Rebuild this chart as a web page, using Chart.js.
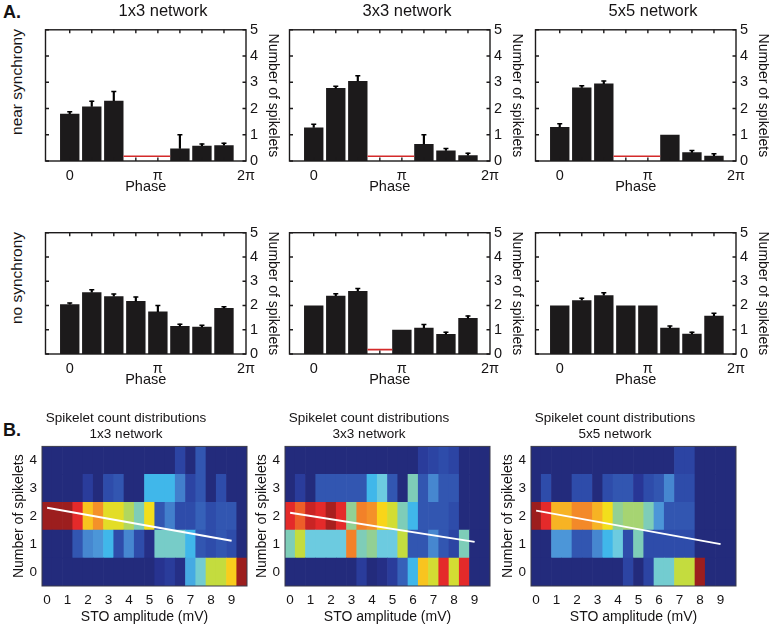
<!DOCTYPE html>
<html lang="en">
<head>
<meta charset="UTF-8"/>
<title>Spikelet counts vs phase and STO amplitude</title>
<script src="https://cdn.jsdelivr.net/npm/chart.js@4.4.1/dist/chart.umd.min.js"></script>
<style>
  * { margin: 0; padding: 0; box-sizing: border-box; }
  body { width: 769px; height: 626px; background: #fff; position: relative; overflow: hidden;
         font-family: 'Liberation Sans', Arial, sans-serif; color: #151314; }
  canvas { position: absolute; }
  .lbl   { position: absolute; white-space: nowrap; }
  .panel { font-weight: bold; font-size: 18px; }
  .row   { font-size: 15.5px; transform: translate(-50%, -50%) rotate(-90deg); }
</style>
</head>
<body>

<div class="lbl panel" style="left:3px; top:2px;">A.</div>
<div class="lbl panel" style="left:3px; top:420px;">B.</div>
<div class="lbl row" style="left:17px; top:82px;">near synchrony</div>
<div class="lbl row" style="left:17px; top:278px;">no synchrony</div>

<script>
// ---- phase histograms (bins in units of pi/4) ----
const phaseBins     = [0, 1, 2, 3, 4, 5, 6, 7];
const phaseTickVals = [0, 4, 8];
const phaseTickText = ['0', 'π', '2π'];
const countTicks    = [0, 1, 2, 3, 4, 5];
const noDataLevel   = 0.18;

const near13    = [1.8, 2.08, 2.3, null, null, 0.48, 0.58, 0.6];
const near13Err = [0.08, 0.2, 0.35, null, null, 0.52, 0.07, 0.08];
const near33    = [1.28, 2.78, 3.05, null, null, 0.65, 0.4, 0.22];
const near33Err = [0.12, 0.07, 0.2, null, null, 0.35, 0.08, 0.08];
const near55    = [1.3, 2.8, 2.95, null, null, 1.0, 0.33, 0.2];
const near55Err = [0.12, 0.07, 0.1, null, null, 0, 0.07, 0.08];
const none13    = [2.05, 2.55, 2.38, 2.18, 1.75, 1.15, 1.12, 1.9];
const none13Err = [0.05, 0.1, 0.09, 0.17, 0.25, 0.08, 0.06, 0.05];
const none33    = [2.0, 2.4, 2.6, null, 1.0, 1.08, 0.82, 1.48];
const none33Err = [0, 0.08, 0.1, null, 0, 0.14, 0.08, 0.09];
const none55    = [2.0, 2.22, 2.42, 2.0, 2.0, 1.08, 0.83, 1.58];
const none55Err = [0, 0.08, 0.1, 0, 0, 0.07, 0.07, 0.1];

// ---- spikelet count distributions (colour value 0..1, rows = spikelet count 0..4) ----
const stoAmp      = [0, 0.5, 1, 1.5, 2, 2.5, 3, 3.5, 4, 4.5, 5, 5.5, 6, 6.5, 7, 7.5, 8, 8.5, 9, 9.5];
const stoTicks    = [0, 1, 2, 3, 4, 5, 6, 7, 8, 9];
const spikeCounts = [0, 1, 2, 3, 4];

const heat13 = [
  [0.02,0.02,0.02,0.02,0.02,0.02,0.02,0.02,0.02,0.02,0.02,0.08,0.12,0.05,0.33,0.44,0.58,0.58,0.67,0.97],
  [0.02,0.02,0.02,0.2,0.28,0.3,0.35,0.18,0.28,0.18,0.05,0.45,0.45,0.45,0.35,0.2,0.18,0.2,0.18,0.02],
  [0.97,0.97,0.97,0.86,0.68,0.74,0.62,0.62,0.55,0.47,0.64,0.2,0.27,0.18,0.18,0.22,0.18,0.2,0.2,0.02],
  [0.02,0.02,0.02,0.02,0.12,0.02,0.18,0.2,0.02,0.02,0.35,0.35,0.35,0.27,0.15,0.2,0.02,0.18,0.02,0.02],
  [0.02,0.02,0.02,0.02,0.02,0.02,0.02,0.02,0.02,0.02,0.02,0.02,0.02,0.15,0.02,0.2,0.02,0.02,0.02,0.02]
];
const heat33 = [
  [0.02,0.02,0.02,0.02,0.02,0.02,0.02,0.12,0.02,0.05,0.12,0.22,0.35,0.68,0.6,0.86,0.6,0.86,0.02,0.02],
  [0.47,0.58,0.42,0.42,0.42,0.42,0.76,0.47,0.5,0.42,0.42,0.58,0.2,0.2,0.28,0.2,0.15,0.47,0.02,0.02],
  [0.86,0.8,0.9,0.86,0.95,0.86,0.5,0.76,0.74,0.66,0.6,0.47,0.35,0.2,0.2,0.2,0.18,0.02,0.02,0.02],
  [0.02,0.12,0.02,0.2,0.2,0.2,0.2,0.2,0.35,0.42,0.2,0.02,0.47,0.2,0.28,0.2,0.2,0.02,0.02,0.02],
  [0.02,0.02,0.02,0.02,0.02,0.02,0.02,0.02,0.02,0.02,0.02,0.02,0.02,0.12,0.15,0.18,0.15,0.02,0.02,0.02]
];
const heat55 = [
  [0.02,0.02,0.02,0.02,0.02,0.02,0.02,0.02,0.02,0.15,0.02,0.15,0.44,0.44,0.58,0.58,0.97,0.02,0.02,0.02],
  [0.02,0.02,0.3,0.3,0.2,0.2,0.28,0.35,0.42,0.18,0.47,0.18,0.18,0.18,0.18,0.18,0.02,0.02,0.02,0.02],
  [0.97,0.86,0.7,0.7,0.75,0.75,0.7,0.64,0.5,0.53,0.53,0.47,0.3,0.2,0.2,0.2,0.02,0.02,0.02,0.02],
  [0.02,0.18,0.02,0.02,0.18,0.18,0.02,0.18,0.2,0.2,0.1,0.18,0.2,0.28,0.18,0.18,0.02,0.02,0.02,0.02],
  [0.02,0.02,0.02,0.02,0.02,0.02,0.02,0.02,0.02,0.02,0.02,0.02,0.02,0.02,0.15,0.15,0.02,0.02,0.02,0.02]
];
// white mean-count lines
const fit13 = [[0, 2.3], [9, 1.12]];
const fit33 = [[0, 2.12], [9, 1.08]];
const fit55 = [[0, 2.2], [9, 1.0]];

// ---------------------------------------------------------------
const INK = '#151314';
const FONT = "'Liberation Sans', Arial, sans-serif";
const BAR_FRAC = 0.88;
Chart.defaults.font.family = FONT;
Chart.defaults.color = INK;
Chart.defaults.animation = false;
Chart.defaults.events = [];
Chart.defaults.plugins.legend.display = false;
Chart.defaults.plugins.tooltip.enabled = false;

// box + inward tick marks (matlab style)
const frameTicks = {
  id: 'frameTicks',
  afterDatasetsDraw(chart, args, o) {
    const { ctx, chartArea: a, scales: { x, y } } = chart;
    ctx.save();
    ctx.strokeStyle = o.color;
    ctx.lineWidth = o.width;
    ctx.strokeRect(a.left, a.top, a.width, a.height);
    ctx.beginPath();
    (o.xMarks || []).forEach(v => {
      const px = x.getPixelForValue(v);
      ctx.moveTo(px, a.bottom); ctx.lineTo(px, a.bottom - o.len);
      ctx.moveTo(px, a.top);    ctx.lineTo(px, a.top + o.len);
    });
    (o.yMarks || []).forEach(v => {
      const py = y.getPixelForValue(v);
      ctx.moveTo(a.left, py);  ctx.lineTo(a.left + o.len, py);
      ctx.moveTo(a.right, py); ctx.lineTo(a.right - o.len, py);
    });
    ctx.stroke();
    ctx.restore();
  }
};

function makeCanvas(left, top, w, h) {
  const c = document.createElement('canvas');
  c.width = w; c.height = h;
  c.style.left = left + 'px'; c.style.top = top + 'px';
  c.style.width = w + 'px'; c.style.height = h + 'px';
  document.body.appendChild(c);
  return c.getContext('2d');
}

// spans of empty bins -> red "no data" segments
function noDataSegments(means) {
  const segs = [];
  let i = 0;
  while (i < means.length) {
    if (means[i] == null) {
      let j = i;
      while (j + 1 < means.length && means[j + 1] == null) j++;
      segs.push([phaseBins[i] - 1 + BAR_FRAC / 2, phaseBins[j] + 1 - BAR_FRAC / 2]);
      i = j + 1;
    } else i++;
  }
  return segs;
}

function phaseChart(left, top, title, means, errs) {
  const W = 204, H = 132, RIGHT = 38, BOTTOM = 37;
  const topExtra = title ? 29 : 2;
  const ctx = makeCanvas(left - 2, top - topExtra, 2 + W + RIGHT, topExtra + H + BOTTOM);

  const bars = phaseBins.map((b, i) => ({ x: b, y: means[i] })).filter(d => d.y != null);
  const stems = phaseBins.map((b, i) => ({ x: b, m: means[i], e: errs[i] }))
    .filter(d => d.m != null && d.e > 0)
    .map(d => ({ x: d.x, y: [d.m, d.m + d.e] }));
  const caps = stems.map(d => ({ x: d.x, y: d.y[1] }));

  const datasets = [
    { type: 'bar', data: bars, backgroundColor: '#1c1a1b', borderWidth: 0,
      grouped: false, barPercentage: BAR_FRAC, categoryPercentage: 1, order: 3 },
    { type: 'bar', data: stems, backgroundColor: '#000', borderWidth: 0,
      grouped: false, barPercentage: 1, categoryPercentage: 1, maxBarThickness: 1.5, order: 2 },
    { type: 'line', data: caps, showLine: false, pointStyle: 'line', pointRadius: 2.5,
      pointBorderWidth: 1.5, borderColor: '#000', order: 1 }
  ];
  noDataSegments(means).forEach(s => datasets.push({
    type: 'line', data: [{ x: s[0], y: noDataLevel }, { x: s[1], y: noDataLevel }],
    borderColor: '#d42a2a', borderWidth: 1.6, pointRadius: 0, order: 0
  }));

  new Chart(ctx, {
    type: 'bar',
    data: { datasets },
    options: {
      responsive: false,
      layout: { padding: { left: 2, top: title ? 0 : 2 } },
      plugins: {
        title: { display: !!title, text: title, color: INK,
                 font: { size: 16.5, weight: 'normal' }, padding: { top: 2, bottom: 8 } },
        frameTicks: { color: '#1c1a1b', width: 1.4, len: 3.5,
                      xMarks: phaseBins, yMarks: countTicks }
      },
      scales: {
        x: {
          type: 'linear', position: 'bottom', min: -1.1, max: 8, bounds: 'data', offset: false,
          afterBuildTicks: s => { s.ticks = phaseTickVals.map(v => ({ value: v })); },
          afterFit: s => { s.height = BOTTOM; s.paddingLeft = 0; s.paddingRight = 0; },
          ticks: { autoSkip: false, maxRotation: 0, padding: 6, font: { size: 14.5 },
                   callback: v => phaseTickText[phaseTickVals.indexOf(v)] },
          grid: { display: false, drawTicks: false },
          border: { display: false },
          title: { display: true, text: 'Phase', font: { size: 14.5 }, padding: { top: 0, bottom: 2 } }
        },
        y: {
          type: 'linear', position: 'right', min: 0, max: 5, bounds: 'data',
          afterBuildTicks: s => { s.ticks = countTicks.map(v => ({ value: v })); },
          afterFit: s => { s.width = RIGHT; },
          ticks: { padding: 4, font: { size: 14.5 } },
          grid: { display: false, drawTicks: false },
          border: { display: false },
          title: { display: true, text: 'Number of spikelets', font: { size: 14 }, padding: { top: 3, bottom: 0 } }
        }
      }
    },
    plugins: [frameTicks]
  });
}

// jet colormap as it looks in the printed (CMYK) figure
const jetStops = [
  [0.00, [34, 40, 118]], [0.10, [40, 54, 150]], [0.18, [46, 76, 170]], [0.25, [60, 112, 196]],
  [0.30, [76, 150, 216]], [0.36, [62, 190, 238]], [0.42, [108, 203, 224]], [0.47, [126, 205, 184]],
  [0.52, [160, 210, 124]], [0.58, [196, 220, 62]], [0.65, [250, 222, 22]], [0.72, [246, 162, 42]],
  [0.78, [240, 112, 40]], [0.86, [228, 42, 42]], [0.93, [180, 32, 32]], [1.00, [138, 28, 28]]
];
function jet(t) {
  let i = 0;
  while (i < jetStops.length - 2 && t > jetStops[i + 1][0]) i++;
  const [t0, c0] = jetStops[i], [t1, c1] = jetStops[i + 1];
  const f = Math.max(0, Math.min(1, (t - t0) / (t1 - t0)));
  const c = c0.map((v, k) => Math.round(v + (c1[k] - v) * f));
  return `rgb(${c[0]},${c[1]},${c[2]})`;
}

function heatChart(left, name, heat, fit) {
  const W = 205, LEFT = 37, BOTTOM = 40, TOP = 403;
  const ctx = makeCanvas(left - LEFT, TOP, LEFT + W + 3, 626 - TOP);

  const datasets = spikeCounts.map(r => ({
    type: 'bar',
    data: stoAmp.map(a => ({ x: a, y: [r - 0.5, r + 0.5] })),
    backgroundColor: heat[r].map(jet),
    borderWidth: 0, grouped: false, barPercentage: 1, categoryPercentage: 1, order: 2
  }));
  datasets.push({
    type: 'line', data: fit.map(p => ({ x: p[0], y: p[1] })),
    borderColor: '#ffffff', borderWidth: 2, pointRadius: 0, order: 0
  });

  new Chart(ctx, {
    type: 'bar',
    data: { datasets },
    options: {
      responsive: false,
      layout: { padding: { right: 3 } },
      plugins: {
        title: { display: true, text: ['Spikelet count distributions', name], color: INK,
                 font: { size: 13.5, weight: 'normal', lineHeight: 1.2 }, padding: { top: 7, bottom: 4 } },
        frameTicks: { color: '#3a3a4a', width: 1, len: 0 }
      },
      scales: {
        x: {
          type: 'linear', position: 'bottom', min: -0.25, max: 9.75, bounds: 'data', offset: false,
          afterBuildTicks: s => { s.ticks = stoTicks.map(v => ({ value: v })); },
          afterFit: s => { s.height = BOTTOM; s.paddingLeft = 0; s.paddingRight = 0; },
          ticks: { autoSkip: false, maxRotation: 0, padding: 6, font: { size: 13.5 } },
          grid: { display: false, drawTicks: false },
          border: { display: false },
          title: { display: true, text: 'STO amplitude (mV)', font: { size: 14 }, padding: { top: 0, bottom: 0 } }
        },
        y: {
          type: 'linear', position: 'left', min: -0.5, max: 4.5, bounds: 'data',
          afterBuildTicks: s => { s.ticks = spikeCounts.map(v => ({ value: v })); },
          afterFit: s => { s.width = LEFT; },
          ticks: { padding: 5, font: { size: 13.5 } },
          grid: { display: false, drawTicks: false },
          border: { display: false },
          title: { display: true, text: 'Number of spikelets', font: { size: 14 }, padding: { top: 6, bottom: 0 } }
        }
      }
    },
    plugins: [frameTicks]
  });
}

const colLefts = [42, 286, 532];
const rowTops  = [29, 222];
const titles   = ['1x3 network', '3x3 network', '5x5 network'];

phaseChart(colLefts[0], rowTops[0], titles[0], near13, near13Err);
phaseChart(colLefts[1], rowTops[0], titles[1], near33, near33Err);
phaseChart(colLefts[2], rowTops[0], titles[2], near55, near55Err);
phaseChart(colLefts[0], rowTops[1], null, none13, none13Err);
phaseChart(colLefts[1], rowTops[1], null, none33, none33Err);
phaseChart(colLefts[2], rowTops[1], null, none55, none55Err);

heatChart(42, titles[0], heat13, fit13);
heatChart(285, titles[1], heat33, fit33);
heatChart(531, titles[2], heat55, fit55);
</script>
</body>
</html>
